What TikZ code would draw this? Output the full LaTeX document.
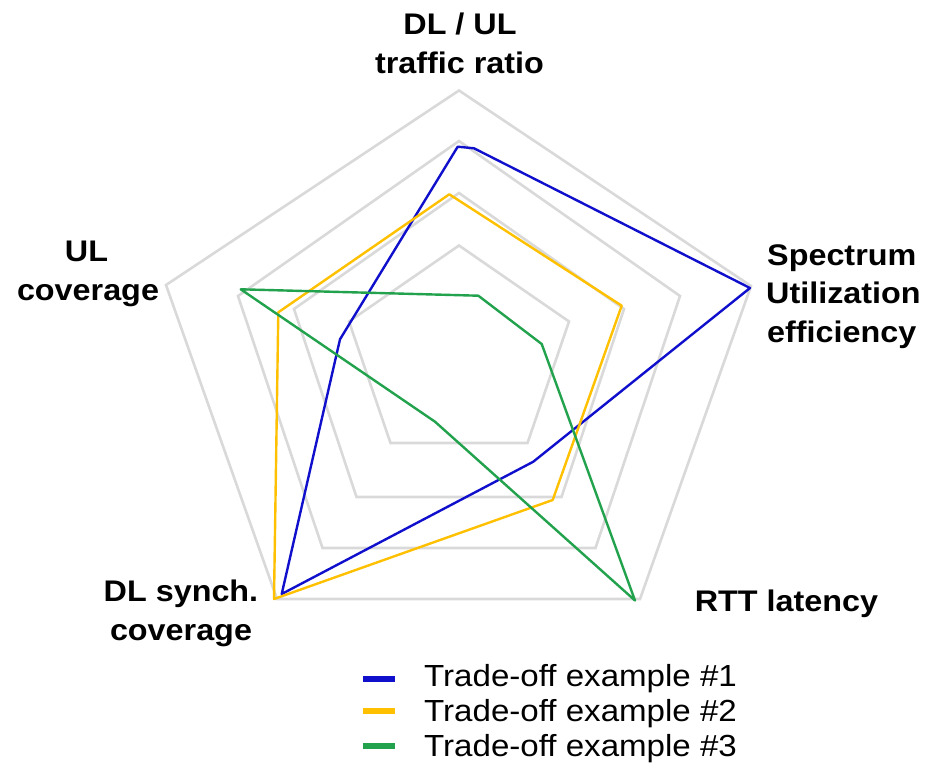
\documentclass[tikz,border=0pt]{standalone}
\usepackage{fontspec}
\newfontfamily\chartfont[FakeStretch=1.085]{Liberation Sans}
\definecolor{gridgray}{HTML}{D9D9D9}
\definecolor{serA}{HTML}{1010CC}
\definecolor{serB}{HTML}{FFC000}
\definecolor{serC}{HTML}{22A24C}
\tikzset{
  gridline/.style={draw=gridgray, line width=2.6pt, line join=miter},
  series/.style={line width=2.4pt, line join=round},
  axislabel/.style={font=\chartfont\bfseries\fontsize{29.8}{36}\selectfont, inner sep=0pt, text=black},
  legendtext/.style={font=\chartfont\fontsize{30.5}{36}\selectfont, inner sep=0pt, anchor=base west, text=black},
  legendbar/.style={line width=6pt}
}
\begin{document}
\begin{tikzpicture}[x=1pt, y=-1pt]
\useasboundingbox (0,0) rectangle (925,765);

% grid pentagons, innermost to outermost
\draw[gridline] (459,245.5) -- (569,321.5) -- (527.5,443) -- (390.5,443) -- (349,321.5) -- cycle;
\draw[gridline] (459,193) -- (624,309) -- (561.5,497) -- (356.5,497) -- (294,309) -- cycle;
\draw[gridline] (459,141) -- (680,296) -- (595.5,548) -- (322.5,548) -- (238,296) -- cycle;
\draw[gridline] (459,90.5) -- (751,286) -- (640,599) -- (277,599) -- (166,285) -- cycle;

% data series
\draw[series, serA] (457.7,146.7) -- (474,148.3) -- (750,288) -- (533.3,461.7) -- (281.7,594) -- (340,339.3) -- cycle;
\draw[series, serB] (449.3,194.3) -- (621.7,305.7) -- (552.7,500) -- (274,599) -- (278.3,312.3) -- cycle;
\draw[series, serC] (240.7,289.3) -- (478.3,295.7) -- (541.7,344) -- (635,600.5) -- (435,421.7) -- cycle;

% axis labels
\node[axislabel, anchor=base] (topA) at (460,34.3) {DL / UL};
\node[axislabel, anchor=base] (topB) at (459.5,73.3) {traffic ratio};
\node[axislabel, anchor=base west] (rightA) at (767,265) {Spectrum};
\node[axislabel, anchor=base west] (rightB) at (766,303.5) {Utilization};
\node[axislabel, anchor=base west] (rightC) at (767,342) {efficiency};
\node[axislabel, anchor=base] (rtt) at (786.5,611) {RTT latency};
\node[axislabel, anchor=base] (dlA) at (181,601) {DL synch.};
\node[axislabel, anchor=base] (dlB) at (181,640) {coverage};
\node[axislabel, anchor=base] (ulA) at (86.5,261.7) {UL};
\node[axislabel, anchor=base] (ulB) at (88,300) {coverage};

% legend
\draw[legendbar, serA] (363,679) -- (395,679);
\draw[legendbar, serB] (363,711) -- (395,711);
\draw[legendbar, serC] (363,745.5) -- (395,745.5);
\node[legendtext] (legA) at (424,686.7) {Trade-off example \#1};
\node[legendtext] (legB) at (424,721.7) {Trade-off example \#2};
\node[legendtext] (legC) at (424,756.7) {Trade-off example \#3};
\end{tikzpicture}
\end{document}
